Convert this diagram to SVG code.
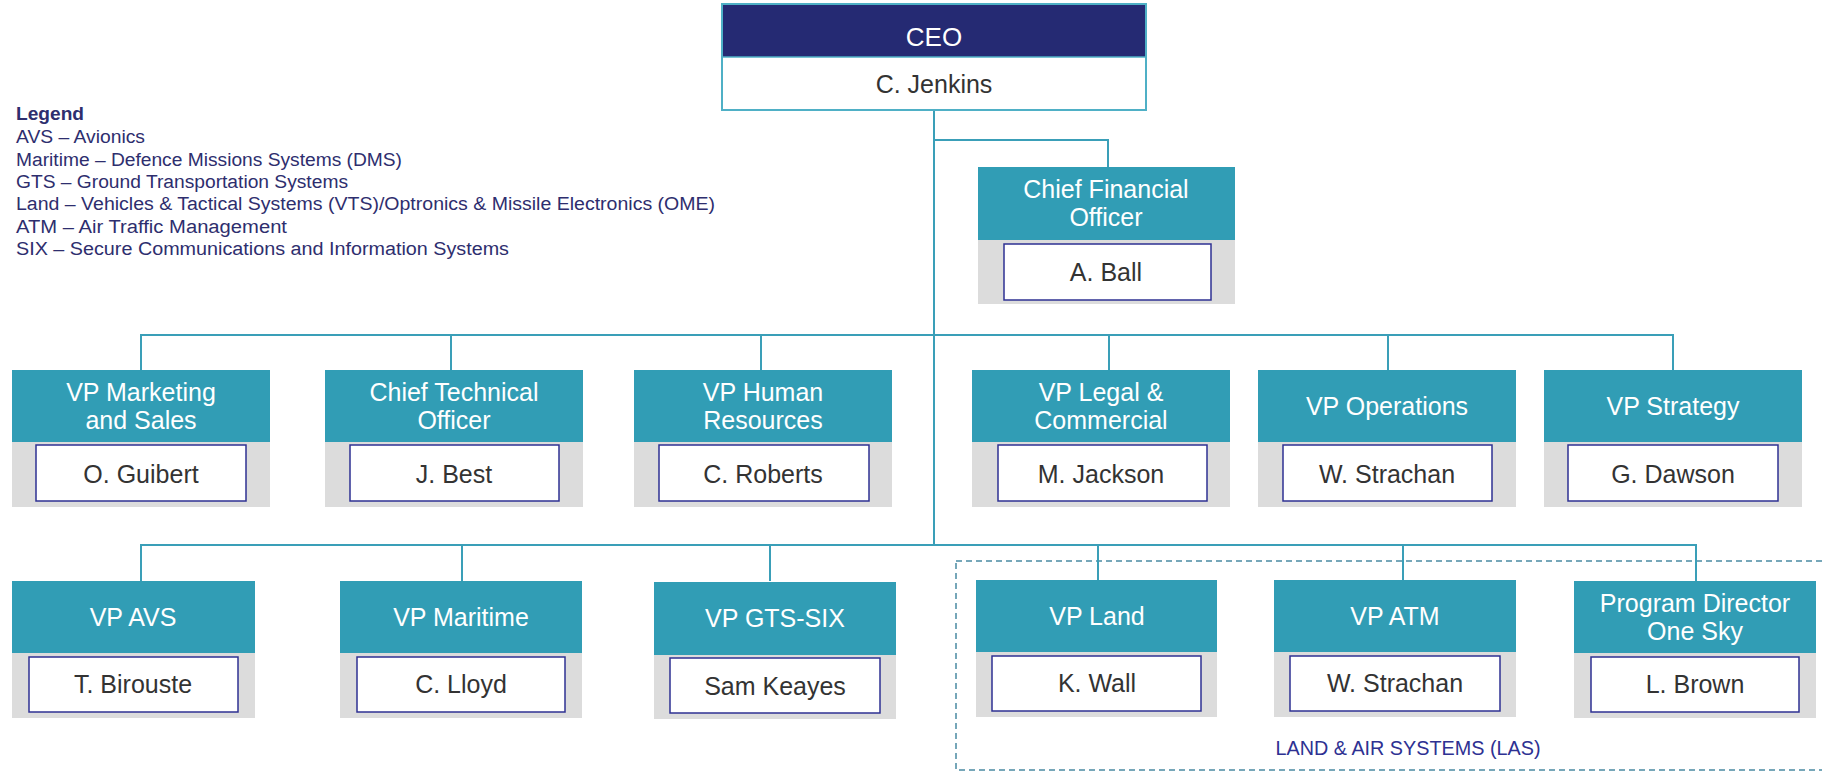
<svg xmlns="http://www.w3.org/2000/svg" width="1822" height="772" viewBox="0 0 1822 772">
<style>
.hdr{fill:#319db5}
.gray{fill:#dcdcdc}
.inner{fill:#ffffff;stroke:#2e3192;stroke-width:1.5}
.ht{font-family:"Liberation Sans",Arial,sans-serif;font-size:25px;fill:#ffffff;text-anchor:middle}
.nt{font-family:"Liberation Sans",Arial,sans-serif;font-size:25px;fill:#333333;text-anchor:middle}
.conn{stroke:#3a9fb8;stroke-width:2;fill:none}
.lg{font-family:"Liberation Sans",Arial,sans-serif;font-size:18px;fill:#2e2e6e}
</style>
<rect width="1822" height="772" fill="#ffffff"/>

<g id="legend">
<text class="lg" x="16" y="120" font-weight="bold" textLength="68" lengthAdjust="spacingAndGlyphs">Legend</text>
<text class="lg" x="16" y="143" textLength="129" lengthAdjust="spacingAndGlyphs">AVS – Avionics</text>
<text class="lg" x="16" y="166" textLength="386" lengthAdjust="spacingAndGlyphs">Maritime – Defence Missions Systems (DMS)</text>
<text class="lg" x="16" y="188" textLength="332" lengthAdjust="spacingAndGlyphs">GTS – Ground Transportation Systems</text>
<text class="lg" x="16" y="210" textLength="699" lengthAdjust="spacingAndGlyphs">Land – Vehicles &amp; Tactical Systems (VTS)/Optronics &amp; Missile Electronics (OME)</text>
<text class="lg" x="16" y="233" textLength="271" lengthAdjust="spacingAndGlyphs">ATM – Air Traffic Management</text>
<text class="lg" x="16" y="255" textLength="493" lengthAdjust="spacingAndGlyphs">SIX – Secure Communications and Information Systems</text>
</g>

<g id="las-group">
<rect x="956" y="561" width="900" height="209" fill="none" stroke="#4a8aa3" stroke-width="1.5" stroke-dasharray="6 4"/>
<text x="1408" y="755" font-family="'Liberation Sans',Arial,sans-serif" font-size="20" fill="#2e3192" text-anchor="middle" textLength="265" lengthAdjust="spacingAndGlyphs">LAND &amp; AIR SYSTEMS (LAS)</text>
</g>

<g id="connectors">
<path class="conn" d="M934 110 V545"/>
<path class="conn" d="M934 140 H1108 V167"/>
<path class="conn" d="M141 370 V335 H1673 V370"/>
<path class="conn" d="M451 335 V370 M761 335 V370 M1109 335 V370 M1388 335 V370"/>
<path class="conn" d="M141 581 V545 H1696 V581"/>
<path class="conn" d="M462 545 V581 M770 545 V581 M1098 545 V581 M1403 545 V581"/>
</g>

<g id="ceo">
<rect x="722" y="4" width="424" height="53" fill="#252a73"/>
<rect x="722" y="57" width="424" height="53" fill="#ffffff"/>
<rect x="722" y="4" width="424" height="106" fill="none" stroke="#4fb0c6" stroke-width="2"/>
<line x1="722" y1="57" x2="1146" y2="57" stroke="#4fb0c6" stroke-width="1.5"/>
<text x="934" y="46" font-family="'Liberation Sans',Arial,sans-serif" font-size="26" fill="#ffffff" text-anchor="middle">CEO</text>
<text x="934" y="93" font-family="'Liberation Sans',Arial,sans-serif" font-size="25" fill="#333333" text-anchor="middle">C. Jenkins</text>
</g>

<g id="cfo">
<rect class="gray" x="978" y="240" width="257" height="64"/>
<rect class="hdr" x="978" y="167" width="257" height="73"/>
<rect class="inner" x="1004" y="244" width="207" height="56"/>
<text class="ht" x="1106" y="198">Chief Financial</text>
<text class="ht" x="1106" y="226">Officer</text>
<text class="nt" x="1106" y="281">A. Ball</text>
</g>

<g id="vp-marketing">
<rect class="gray" x="12" y="442" width="258" height="65"/>
<rect class="hdr" x="12" y="370" width="258" height="72"/>
<rect class="inner" x="36" y="445" width="210" height="56"/>
<text class="ht" x="141" y="401">VP Marketing</text>
<text class="ht" x="141" y="429">and Sales</text>
<text class="nt" x="141" y="483">O. Guibert</text>
</g>

<g id="cto">
<rect class="gray" x="325" y="442" width="258" height="65"/>
<rect class="hdr" x="325" y="370" width="258" height="72"/>
<rect class="inner" x="350" y="445" width="209" height="56"/>
<text class="ht" x="454" y="401">Chief Technical</text>
<text class="ht" x="454" y="429">Officer</text>
<text class="nt" x="454" y="483">J. Best</text>
</g>

<g id="vp-hr">
<rect class="gray" x="634" y="442" width="258" height="65"/>
<rect class="hdr" x="634" y="370" width="258" height="72"/>
<rect class="inner" x="659" y="445" width="210" height="56"/>
<text class="ht" x="763" y="401">VP Human</text>
<text class="ht" x="763" y="429">Resources</text>
<text class="nt" x="763" y="483">C. Roberts</text>
</g>

<g id="vp-legal">
<rect class="gray" x="972" y="442" width="258" height="65"/>
<rect class="hdr" x="972" y="370" width="258" height="72"/>
<rect class="inner" x="998" y="445" width="209" height="56"/>
<text class="ht" x="1101" y="401">VP Legal &amp;</text>
<text class="ht" x="1101" y="429">Commercial</text>
<text class="nt" x="1101" y="483">M. Jackson</text>
</g>

<g id="vp-operations">
<rect class="gray" x="1258" y="442" width="258" height="65"/>
<rect class="hdr" x="1258" y="370" width="258" height="72"/>
<rect class="inner" x="1283" y="445" width="209" height="56"/>
<text class="ht" x="1387" y="415">VP Operations</text>
<text class="nt" x="1387" y="483">W. Strachan</text>
</g>

<g id="vp-strategy">
<rect class="gray" x="1544" y="442" width="258" height="65"/>
<rect class="hdr" x="1544" y="370" width="258" height="72"/>
<rect class="inner" x="1568" y="445" width="210" height="56"/>
<text class="ht" x="1673" y="415">VP Strategy</text>
<text class="nt" x="1673" y="483">G. Dawson</text>
</g>

<g id="vp-avs">
<rect class="gray" x="12" y="653" width="243" height="65"/>
<rect class="hdr" x="12" y="581" width="243" height="72"/>
<rect class="inner" x="29" y="657" width="209" height="55"/>
<text class="ht" x="133" y="626">VP AVS</text>
<text class="nt" x="133" y="693">T. Birouste</text>
</g>

<g id="vp-maritime">
<rect class="gray" x="340" y="653" width="242" height="65"/>
<rect class="hdr" x="340" y="581" width="242" height="72"/>
<rect class="inner" x="357" y="657" width="208" height="55"/>
<text class="ht" x="461" y="626">VP Maritime</text>
<text class="nt" x="461" y="693">C. Lloyd</text>
</g>

<g id="vp-gts-six">
<rect class="gray" x="654" y="655" width="242" height="64"/>
<rect class="hdr" x="654" y="582" width="242" height="73"/>
<rect class="inner" x="670" y="658" width="210" height="55"/>
<text class="ht" x="775" y="627">VP GTS-SIX</text>
<text class="nt" x="775" y="695">Sam Keayes</text>
</g>

<g id="vp-land">
<rect class="gray" x="976" y="652" width="241" height="65"/>
<rect class="hdr" x="976" y="580" width="241" height="72"/>
<rect class="inner" x="992" y="656" width="209" height="55"/>
<text class="ht" x="1097" y="625">VP Land</text>
<text class="nt" x="1097" y="692">K. Wall</text>
</g>

<g id="vp-atm">
<rect class="gray" x="1274" y="652" width="242" height="65"/>
<rect class="hdr" x="1274" y="580" width="242" height="72"/>
<rect class="inner" x="1290" y="656" width="210" height="55"/>
<text class="ht" x="1395" y="625">VP ATM</text>
<text class="nt" x="1395" y="692">W. Strachan</text>
</g>

<g id="program-director">
<rect class="gray" x="1574" y="653" width="242" height="65"/>
<rect class="hdr" x="1574" y="581" width="242" height="72"/>
<rect class="inner" x="1591" y="657" width="208" height="55"/>
<text class="ht" x="1695" y="612">Program Director</text>
<text class="ht" x="1695" y="640">One Sky</text>
<text class="nt" x="1695" y="693">L. Brown</text>
</g>
</svg>
